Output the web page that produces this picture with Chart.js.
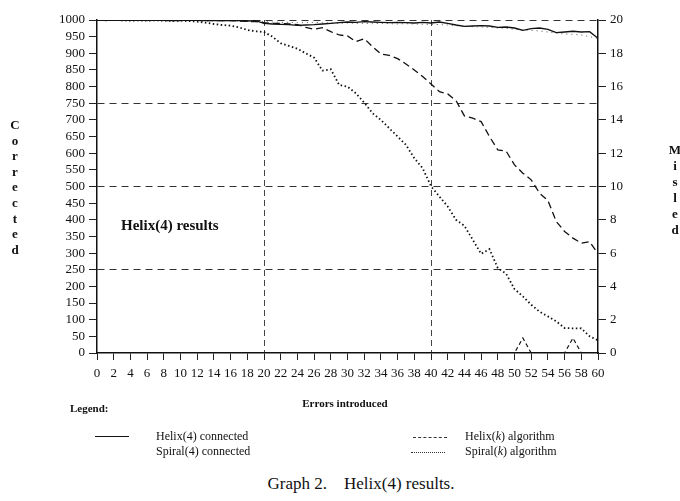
<!DOCTYPE html>
<html>
<head>
<meta charset="utf-8">
<script src="https://cdn.jsdelivr.net/npm/chart.js@4/dist/chart.umd.min.js"></script>
<style>
  html, body { margin: 0; padding: 0; background: #fff; }
  #wrap { position: relative; width: 680px; height: 501px; overflow: hidden; font-family: "Liberation Serif", "DejaVu Serif", serif; color: #111; }
  #c { position: absolute; left: 0; top: 0; }
  .abs { position: absolute; white-space: pre; }
  .vert { text-align: center; font-weight: bold; font-size: 13px; width: 16px; }
  .vert span { display: block; height: 15.6px; line-height: 15.6px; }
  .leg { font-size: 12px; line-height: 14px; }
  .sample { position: absolute; height: 0; width: 34px; }
</style>
</head>
<body>
<div id="wrap">
  <canvas id="c" width="680" height="400"></canvas>
  <div class="abs vert" style="left:7px; top:117px;"><span>C</span><span>o</span><span>r</span><span>r</span><span>e</span><span>c</span><span>t</span><span>e</span><span>d</span></div>
  <div class="abs vert" style="left:667px; top:142px;"><span style="height:16px;line-height:16px">M</span><span style="height:16px;line-height:16px">i</span><span style="height:16px;line-height:16px">s</span><span style="height:16px;line-height:16px">l</span><span style="height:16px;line-height:16px">e</span><span style="height:16px;line-height:16px">d</span></div>
  <div class="abs" style="left:121px; top:217px; font-size:15px; font-weight:bold;">Helix(4) results</div>
  <div class="abs" style="left:290px; top:397px; width:110px; text-align:center; font-size:11px; font-weight:bold;">Errors introduced</div>
  <div class="abs" style="left:70px; top:402px; font-size:11px; font-weight:bold;">Legend:</div>
  <div class="sample" style="left:95px; top:436px; border-top:1px solid #111;"></div>
  <div class="abs leg" style="left:156px; top:429px;">Helix(4) connected</div>
  <div class="abs leg" style="left:156px; top:444px;">Spiral(4) connected</div>
  <div class="sample" style="left:413px; top:437px; border-top:1px dashed #333;"></div>
  <div class="abs leg" style="left:465px; top:429px;">Helix(<i>k</i>) algorithm</div>
  <div class="sample" style="left:411px; top:452px; border-top:1px dotted #333;"></div>
  <div class="abs leg" style="left:465px; top:444px;">Spiral(<i>k</i>) algorithm</div>
  <div class="abs" style="left:200px; top:474px; width:322px; text-align:center; font-size:17px;">Graph 2.    Helix(4) results.</div>
</div>
<script>
const errors = [0,1,2,3,4,5,6,7,8,9,10,11,12,13,14,15,16,17,18,19,20,21,22,23,24,25,26,27,28,29,30,31,32,33,34,35,36,37,38,39,40,41,42,43,44,45,46,47,48,49,50,51,52,53,54,55,56,57,58,59,60];

// Corrected (left axis)
const helix4Connected = [1000,999,1000,999,1000,999,999,1000,999,998,999,1000,999,998,999,998,999,998,997,998,
  990,988,987,986,984,985,986,988,990,992,
  994,993,995,994,993,992,993,992,991,993,
  991,994,990,985,981,982,983,982,978,979,
  976,969,974,976,972,962,964,966,964,965,945];
const spiral4Connected = [999,998,999,998,999,998,998,999,998,997,998,999,998,997,998,997,998,997,996,996,
  995,994,993,993,992,992,993,992,991,990,
  991,990,990,989,990,989,988,989,988,987,
  987,986,985,983,981,980,979,978,976,975,
  972,970,969,967,964,961,958,957,955,950,945];
const helixKAlgorithm = [1000,1000,999,1000,999,1000,999,999,1000,999,998,999,999,998,999,998,998,997,
  996,995,992,990,990,988,986,978,972,977,965,955,
  952,935,944,920,898,894,884,868,850,830,
  808,785,778,758,712,705,695,650,610,606,
  565,540,520,480,458,395,365,345,330,334,298];
const spiralKAlgorithm = [1000,999,1000,999,998,999,998,999,998,997,998,997,
  995,992,988,985,983,978,970,966,964,
  950,930,922,914,900,887,848,852,805,800,
  780,752,720,700,675,650,625,585,555,501,
  470,440,400,382,340,298,312,255,238,192,
  170,145,124,110,95,75,74,74,50,38];

// Missed (right axis)
const helix4Missed = [0,0,0,0,0,0,0,0,0,0,0,0,0,0,0,0,0,0,0,0,0,0,0,0,0,0,0,0,0,0,0,0,0,0,0,0,0,0,0,0,0,0,0,0,0,0,0,0,0,0,0,0,0,0,0,0,0,0,0,0,0];
const helixKMissed = [0,0,0,0,0,0,0,0,0,0,0,0,0,0,0,0,0,0,0,0,0,0,0,0,0,0,0,0,0,0,0,0,0,0,0,0,0,0,0,0,0,0,0,0,0,0,0,0,0,0,0,0.9,0,0,0,0,0,0.9,0,0,0];
const spiralKMissed = [0,0,0,0,0,0,0,0,0,0,0,0,0,0,0,0,0,0,0,0,0,0,0,0,0,0,0,0,0,0,0,0,0,0,0,0,0,0,0,0,0,0,0,0,0,0,0,0,0,0,0,0,0,0,0,0,0,0,0,0,0];

const toXY = arr => arr.map((v, i) => ({ x: errors[i], y: v }));
const FONT = "'Liberation Serif', 'DejaVu Serif', serif";

const base = { pointRadius: 0, tension: 0, fill: false, borderColor: '#111' };

new Chart(document.getElementById('c'), {
  type: 'line',
  data: {
    datasets: [
      { ...base, label: 'Helix(4) connected', data: toXY(helix4Connected), yAxisID: 'y', borderWidth: 1.4 },
      { ...base, label: 'Spiral(4) connected', data: toXY(spiral4Connected), yAxisID: 'y', borderWidth: 1, borderDash: [1, 4], borderColor: '#555' },
      { ...base, label: 'Helix(k) algorithm', data: toXY(helixKAlgorithm), yAxisID: 'y', borderWidth: 1.3, borderDash: [7, 4] },
      { ...base, label: 'Spiral(k) algorithm', data: toXY(spiralKAlgorithm), yAxisID: 'y', borderWidth: 1.8, borderDash: [1.5, 2.5] },
      { ...base, label: 'Helix(4) missed', data: toXY(helix4Missed), yAxisID: 'y1', borderWidth: 1.4 },
      { ...base, label: 'Helix(k) missed', data: toXY(helixKMissed), yAxisID: 'y1', borderWidth: 1.2, borderDash: [4, 3] },
      { ...base, label: 'Spiral(k) missed', data: toXY(spiralKMissed), yAxisID: 'y1', borderWidth: 1.8, borderDash: [1.5, 2.5] }
    ]
  },
  options: {
    responsive: false,
    animation: false,
    layout: { padding: { top: 20, left: 0, right: 0, bottom: 0 } },
    plugins: { legend: { display: false }, tooltip: { enabled: false }, title: { display: false } },
    scales: {
      x: {
        type: 'linear', min: 0, max: 60,
        afterFit: s => { s.height = 47; },
        ticks: { stepSize: 2, color: '#111', font: { family: FONT, size: 13 }, padding: 6, maxRotation: 0, autoSkip: false, maxTicksLimit: 40, callback: v => String(v) },
        grid: {
          color: ctx => (ctx.tick && (ctx.tick.value === 20 || ctx.tick.value === 40)) ? '#444' : 'rgba(0,0,0,0)',
          tickColor: '#222', tickLength: 7, lineWidth: 1
        },
        border: { display: true, color: '#111', width: 1.5, dash: [6, 4] }
      },
      y: {
        type: 'linear', position: 'left', min: 0, max: 1000,
        afterFit: s => { s.width = 97; },
        ticks: { stepSize: 50, autoSkip: false, maxTicksLimit: 40, color: '#111', font: { family: FONT, size: 13, lineHeight: 1 }, padding: 4, callback: v => String(v) },
        grid: {
          color: ctx => (ctx.tick && ctx.tick.value > 0 && ctx.tick.value % 250 === 0) ? '#333' : 'rgba(0,0,0,0)',
          tickColor: '#222', tickLength: 8, lineWidth: 1
        },
        border: { display: true, color: '#111', width: 1.5, dash: [7, 5] }
      },
      y1: {
        type: 'linear', position: 'right', min: 0, max: 20,
        afterFit: s => { s.width = 82; },
        ticks: { stepSize: 2, autoSkip: false, color: '#111', font: { family: FONT, size: 13 }, padding: 4, callback: v => String(v) },
        grid: { drawOnChartArea: false, tickColor: '#222', tickLength: 8 },
        border: { display: true, color: '#111', width: 1.5 }
      }
    }
  }
});
</script>
</body>
</html>
